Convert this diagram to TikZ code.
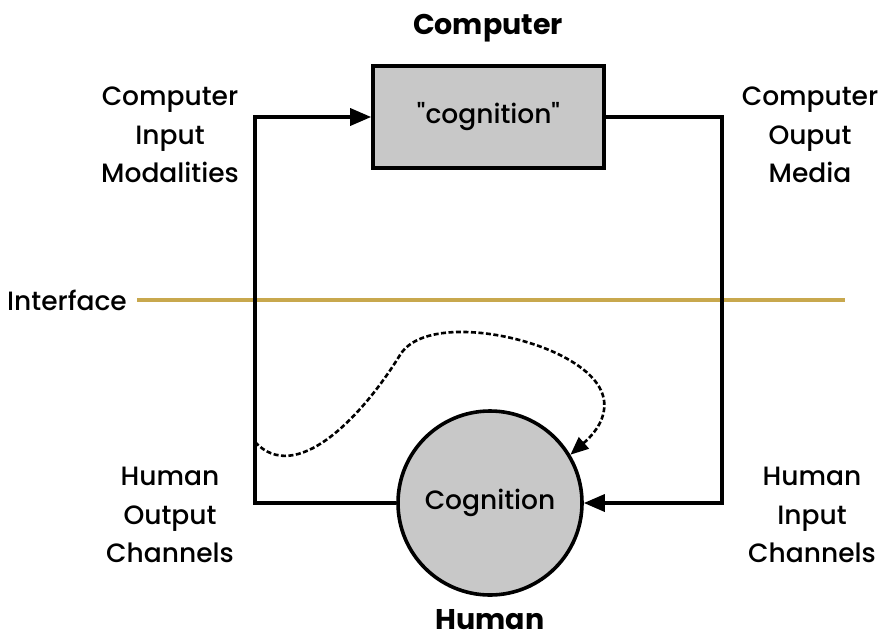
\documentclass[tikz,border=0pt]{standalone}
\usepackage{fontspec}
\setmainfont{Poppins}[UprightFont=* Medium, BoldFont=* Bold, Ligatures=TeXOff]
\usetikzlibrary{arrows.meta}
\definecolor{boxgray}{HTML}{C8C8C8}
\definecolor{ifacegold}{HTML}{C8A84E}

\begin{document}
\begin{tikzpicture}[x=1pt,y=-1pt]
\useasboundingbox (0,0) rectangle (890,642);
\tikzset{
  side/.style={align=center, font=\fontsize{26.5}{38.5}\selectfont},
  head/.style={font=\bfseries\fontsize{28.5}{32}\selectfont},
  link/.style={line width=3.4pt, -{Triangle[length=21pt,width=17pt]}},
}
% interface line
\node[side, anchor=east, inner sep=0pt] (intf) at (127,300) {Interface};
\coordinate (ifaceend) at (845,300);
\draw[ifacegold, line width=3.6pt] ([xshift=10pt]intf.east) -- (ifaceend);
% computer side
\node[draw, line width=3.6pt, fill=boxgray, minimum width=231pt, minimum height=102pt, side] (comp) at (488.5,117) {"cognition"};
\node[head] (comptitle) at (488,28) {Computer};
\node[side] (inmod) at (170,135) {Computer\\Input\\Modalities};
\node[side] (outmed) at (810,135) {Computer\\Ouput\\Media};
% human side
\node[circle, draw, line width=3.6pt, fill=boxgray, minimum size=184pt, side] (hum) at (490,503) {Cognition};
\node[head] (humtitle) at (490,620) {Human};
\node[side] (outch) at (170,515) {Human\\Output\\Channels};
\node[side] (inch) at (812,515) {Human\\Input\\Channels};
% loop
\coordinate (lcorner) at (255,503);
\coordinate (rcorner) at (722,503);
\draw[link] (hum.west) -- (lcorner) |- (comp.west);
\draw[link] (comp.east) -| (rcorner) -- (hum.east);
% feedback
\coordinate (fbstart) at (255,442);
\draw[line width=2.6pt, dash pattern=on 5pt off 2.5pt, -{Triangle[length=18pt,width=15pt]}]
  (fbstart) .. controls (295,485) and (360,420) .. (400,355)
  .. controls (422,319) and (510,330) .. (560,355)
  .. controls (620,385) and (610,420) .. (hum.31);
\end{tikzpicture}
\end{document}
